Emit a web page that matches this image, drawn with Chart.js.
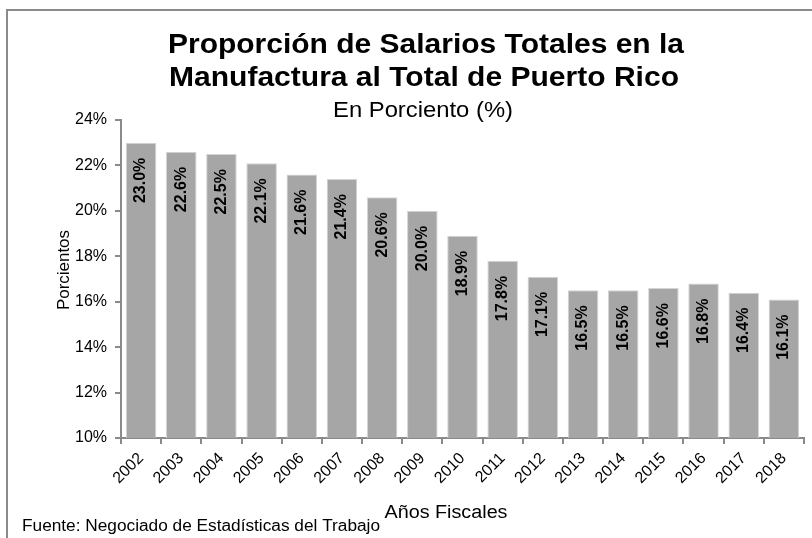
<!DOCTYPE html>
<html>
<head>
<meta charset="utf-8">
<script src="https://cdn.jsdelivr.net/npm/chart.js@4"></script>
<style>
  html, body { margin: 0; padding: 0; background: #fff; }
  #wrap { position: relative; width: 812px; height: 538px; overflow: hidden; }
  #frame { position: absolute; left: 6px; top: 9px; width: 900px; height: 700px; border-left: 2px solid #8a8a8a; border-top: 2px solid #8a8a8a; }
  canvas { position: absolute; left: 0; top: 0; }
</style>
</head>
<body>
<div id="wrap">
  <div id="frame"></div>
  <canvas id="c" width="812" height="538"></canvas>
</div>
<script>
const years = ['2002','2003','2004','2005','2006','2007','2008','2009','2010','2011','2012','2013','2014','2015','2016','2017','2018'];
const shares = [23.0, 22.6, 22.5, 22.1, 21.6, 21.4, 20.6, 20.0, 18.9, 17.8, 17.1, 16.5, 16.5, 16.6, 16.8, 16.4, 16.1];
const titleLines = ['Proporción de Salarios Totales en la', 'Manufactura al Total de Puerto Rico'];
const subtitleText = 'En Porciento (%)';
const yTitle = 'Porcientos';
const xTitle = 'Años Fiscales';
const sourceNote = 'Fuente: Negociado de Estadísticas del Trabajo';

const FONT = '"Liberation Sans", Arial, sans-serif';

function fitText(ctx, text, x, y, width) {
  const w = ctx.measureText(text).width;
  ctx.save();
  ctx.translate(x, y);
  ctx.scale(width / w, 1);
  ctx.fillText(text, 0, 0);
  ctx.restore();
}

const textPlugin = {
  id: 'texts',
  afterDraw(chart) {
    const ctx = chart.ctx;
    ctx.save();
    ctx.fillStyle = '#000';
    ctx.textAlign = 'center';
    ctx.textBaseline = 'alphabetic';
    ctx.font = 'bold 28px ' + FONT;
    fitText(ctx, titleLines[0], 426, 53, 516);
    fitText(ctx, titleLines[1], 424, 86, 510);
    ctx.font = '22px ' + FONT;
    fitText(ctx, subtitleText, 423, 117, 180);

    ctx.font = '18px ' + FONT;
    fitText(ctx, xTitle, 446, 518, 123);
    ctx.textAlign = 'left';
    ctx.font = '16px ' + FONT;
    fitText(ctx, sourceNote, 22, 531, 358);

    ctx.save();
    ctx.translate(69, 270);
    ctx.rotate(-Math.PI / 2);
    ctx.textAlign = 'center';
    ctx.font = '16px ' + FONT;
    fitText(ctx, yTitle, 0, 0, 80);
    ctx.restore();

    // data labels
    const meta = chart.getDatasetMeta(0);
    ctx.font = 'bold 16px ' + FONT;
    meta.data.forEach((bar, i) => {
      const label = shares[i].toFixed(1) + '%';
      ctx.save();
      ctx.translate(bar.x, bar.y + 15);
      ctx.rotate(-Math.PI / 2);
      ctx.textAlign = 'right';
      ctx.textBaseline = 'middle';
      ctx.fillStyle = '#000';
      ctx.fillText(label, 0, 0);
      ctx.restore();
    });
    ctx.restore();
  }
};

new Chart(document.getElementById('c'), {
  type: 'bar',
  data: {
    labels: years,
    datasets: [{
      data: shares,
      backgroundColor: '#a6a6a6',
      borderColor: '#d4d4d4',
      borderWidth: 1,
      barPercentage: 0.76,
      categoryPercentage: 1.0
    }]
  },
  options: {
    responsive: false,
    animation: false,
    devicePixelRatio: 1,
    layout: { padding: { left: 0, right: 8, top: 120, bottom: 0 } },
    plugins: {
      legend: { display: false },
      tooltip: { enabled: false },
      title: { display: false }
    },
    scales: {
      x: {
        offset: true,
        afterFit(scale) { scale.height = 100; },
        grid: { display: true, drawOnChartArea: false, drawTicks: true, tickLength: 6, offset: true, color: '#8a8a8a', lineWidth: 2 },
        border: { display: true, color: '#8a8a8a', width: 2 },
        ticks: {
          color: '#000',
          font: { family: FONT, size: 16 },
          maxRotation: 45, minRotation: 45,
          autoSkip: false,
          padding: 5
        }
      },
      y: {
        min: 10, max: 24,
        afterFit(scale) { scale.width = 121; },
        grid: { display: true, drawOnChartArea: false, drawTicks: true, tickLength: 6, color: '#8a8a8a', lineWidth: 2 },
        border: { display: true, color: '#8a8a8a', width: 2 },
        ticks: {
          stepSize: 2,
          color: '#000',
          font: { family: FONT, size: 16 },
          padding: 8,
          callback: v => v + '%'
        }
      }
    }
  },
  plugins: [textPlugin]
});
</script>
</body>
</html>
